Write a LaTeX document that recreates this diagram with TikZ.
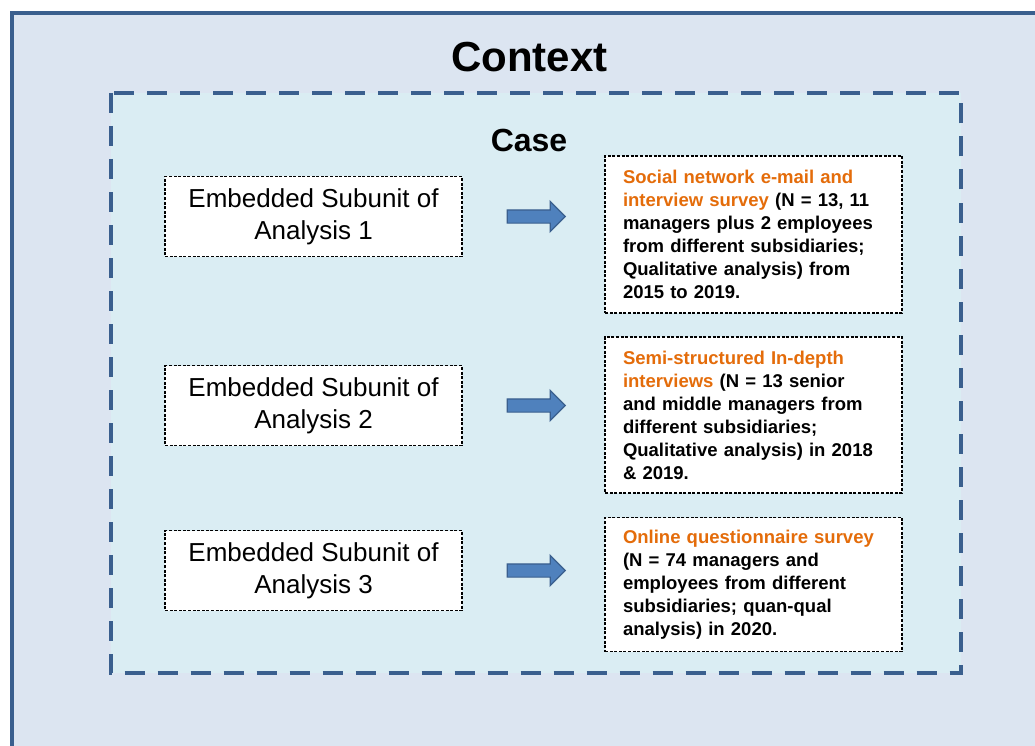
\documentclass[tikz,border=0pt]{standalone}
\usepackage{fontspec}
\setmainfont{Liberation Sans}
\usetikzlibrary{positioning, shapes.arrows}
\definecolor{frameblue}{RGB}{58,95,142}
\definecolor{contextbg}{RGB}{220,229,241}
\definecolor{casebg}{RGB}{218,237,243}
\definecolor{arrowblue}{RGB}{79,129,189}
\definecolor{methodorange}{RGB}{228,108,10}
\tikzstyle{frame}=[draw=frameblue, line width=4pt]
\tikzstyle{smalldash}=[draw=black, fill=white, line width=1.3pt, dash pattern=on 3pt off 1.6pt]
\tikzstyle{subunit}=[smalldash, minimum width=297pt, minimum height=80pt, inner sep=0pt, align=center, font=\fontsize{26}{32}\selectfont]
\tikzstyle{method}=[smalldash, minimum width=297pt, text width=261pt, inner xsep=18pt, inner ysep=0pt, align=left, font=\fontsize{18.5}{23}\selectfont\bfseries]
\tikzstyle{blockarr}=[single arrow, draw=frameblue, fill=arrowblue, line width=1.2pt, minimum height=58pt, minimum width=30pt, single arrow head extend=8.5pt, inner xsep=0pt, inner ysep=6pt]
\newcommand{\hl}[1]{\textcolor{methodorange}{#1}}

\begin{document}
\begin{tikzpicture}[x=1pt, y=-1pt]
				\useasboundingbox (0,0) rectangle (1035,746);
				\clip (0,0) rectangle (1035,746);
				\fill[white] (0,0) rectangle (1035,746);

				% Context and case frames
				\draw[frame, fill=contextbg] (11.5,13) rectangle (1050,760);
				\draw[frame, fill=casebg, dash pattern=on 20pt off 13pt] (110.5,93) rectangle (961,673);

				\node[anchor=base, font=\fontsize{42}{42}\selectfont\bfseries] (context) at (529.5,72) {Context};
				\node[anchor=base, font=\fontsize{32}{32}\selectfont\bfseries] (case) at (529,152) {Case};

				% Embedded subunits
				\node[subunit] (sub1) at (313.5,216.5) {Embedded Subunit of\\Analysis 1};
				\node[subunit] (sub2) at (313.5,405.5) {Embedded Subunit of\\Analysis 2};
				\node[subunit] (sub3) at (313.5,570.5) {Embedded Subunit of\\Analysis 3};

				\foreach \i in {1,2,3}{ \node[blockarr, right=44pt of sub\i] (arr\i) {}; }

				% Data collection per subunit
				\node[method, minimum height=157pt] (meth1) at (753.5,234.5) {\hl{Social network e-mail and}\\
					\hl{interview survey} (N = 13, 11\\
					managers plus 2 employees\\
					from different subsidiaries;\\
					Qualitative analysis) from\\
					2015 to 2019.};
				\node[method, minimum height=156pt] (meth2) at (753.5,415) {\hl{Semi-structured In-depth}\\
					\hl{interviews} (N = 13 senior\\
					and middle managers from\\
					different subsidiaries;\\
					Qualitative analysis) in 2018\\
					\& 2019.};
				\node[method, minimum height=134pt] (meth3) at (753.5,584.5) {\hl{Online questionnaire survey}\\
					(N = 74 managers and\\
					employees from different\\
					subsidiaries; quan-qual\\
					analysis) in 2020.};
			\end{tikzpicture}
\end{document}
